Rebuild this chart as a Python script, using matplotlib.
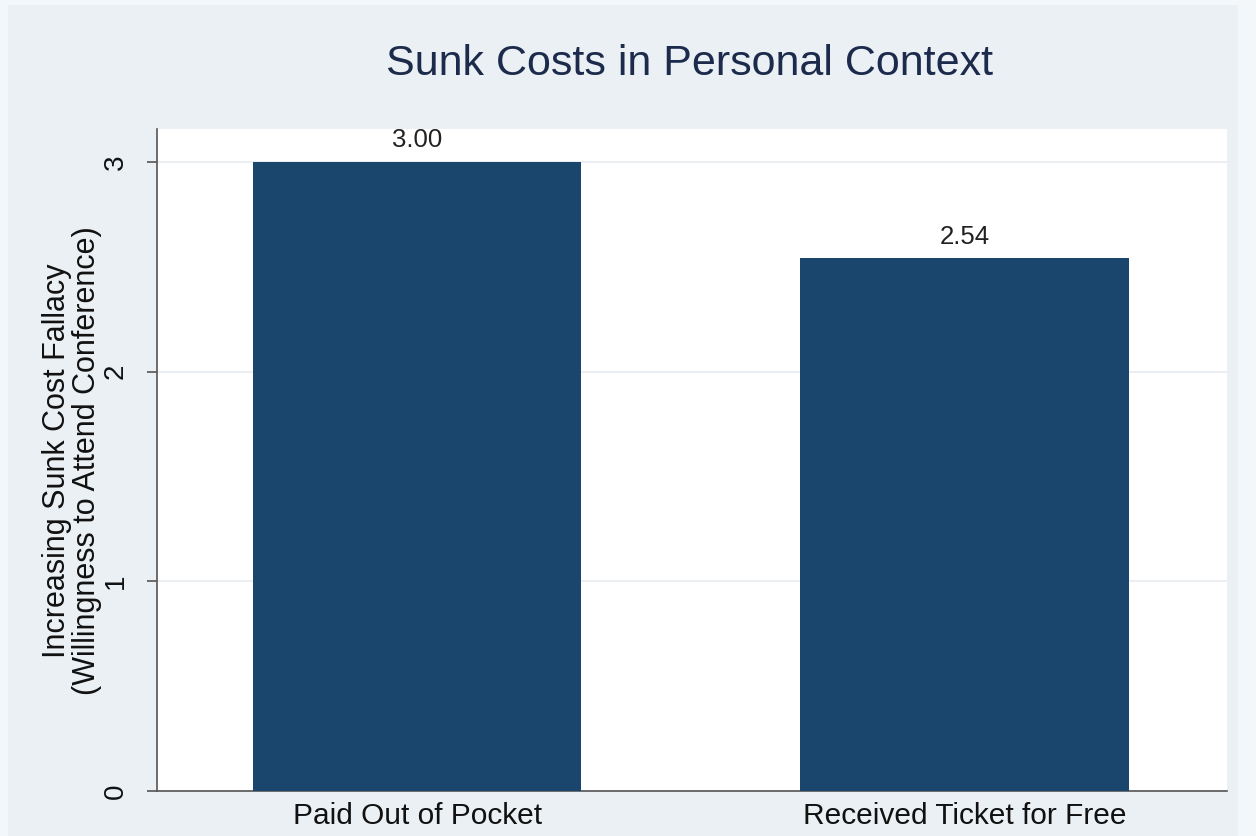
import matplotlib
matplotlib.use("Agg")
import matplotlib.pyplot as plt
from matplotlib.patches import Rectangle

categories = ["Paid Out of Pocket", "Received Ticket for Free"]
values = [3.00, 2.54]
value_labels = ["3.00", "2.54"]
y_ticks = [0, 1, 2, 3]

plt.rcParams["font.family"] = ["Liberation Sans", "DejaVu Sans"]

W, H = 1256, 836
bg = "#EAF0F3"
bar_color = "#1A466E"
axis_color = "#555555"
text_color = "#111111"

fig = plt.figure(figsize=(W / 100, H / 100), dpi=100, facecolor="#F3F7F9")
# graph region, slightly inset from the image border
fig.add_artist(Rectangle((8 / W, 0), (1238 - 8) / W, 1 - 5 / H,
                         transform=fig.transFigure, facecolor=bg,
                         edgecolor="none", zorder=-10))

ax = fig.add_axes([157 / W, 1 - 791 / H, (1227 - 157) / W, (791 - 129) / H])
ax.set_facecolor("white")

x = [1, 2]
bars = ax.bar(x, values, width=0.6, color=bar_color, zorder=3)
for b, lab in zip(bars, value_labels):
    ax.annotate(lab, (b.get_x() + b.get_width() / 2, b.get_height()),
                xytext=(0, 7), textcoords="offset points",
                ha="center", va="bottom", fontsize=18.5, color="#222222")

ax.set_xlim(0.524, 2.48)
ax.set_ylim(0, 3.157)
ax.set_xticks(x)
ax.set_xticklabels(categories, fontsize=21.5, color=text_color)
ax.tick_params(axis="x", length=0, pad=8)
ax.set_yticks(y_ticks)
ax.set_yticklabels([str(t) for t in y_ticks], fontsize=20, rotation=90,
                   va="center", color=text_color)
ax.tick_params(axis="y", length=7.5, width=1.2, color=axis_color, pad=13)

ax.grid(axis="y", color="#ECEFF1", linewidth=1.5, zorder=0)
for side in ["top", "right"]:
    ax.spines[side].set_visible(False)
for side in ["left", "bottom"]:
    ax.spines[side].set_color(axis_color)
    ax.spines[side].set_linewidth(1.2)

fig.text(72 / W, 1 - 461 / H,
         "Increasing Sunk Cost Fallacy\n(Willingness to Attend Conference)",
         rotation=90, ha="center", va="center", multialignment="center",
         fontsize=22, color=text_color, linespacing=1.0)

fig.text(690 / W, 1 - 75 / H, "Sunk Costs in Personal Context",
         ha="center", va="baseline", fontsize=31, color="#1C2A4C")

fig.savefig("out.png", dpi=100, facecolor=fig.get_facecolor())
